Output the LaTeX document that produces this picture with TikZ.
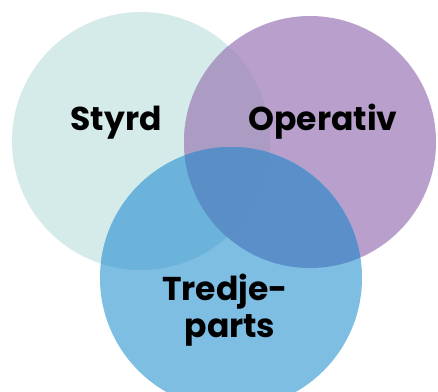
\documentclass[tikz,border=0pt]{standalone}
\usepackage{fontspec}
\setmainfont{Poppins}
\definecolor{cL}{HTML}{D4EBEA}
\definecolor{cP}{HTML}{B9A0CC}
\definecolor{cB}{HTML}{7EBEE3}
\definecolor{cLP}{HTML}{AC9CC4}
\definecolor{cLB}{HTML}{6CB3DC}
\definecolor{cBP}{HTML}{5B8FC9}
\definecolor{cLBP}{HTML}{5A8EC7}
\tikzset{lbl/.style={font=\bfseries\fontsize{33}{42}\selectfont, text=black, align=center, inner sep=0pt}}
\begin{document}
\begin{tikzpicture}[x=1pt,y=-1pt]
\useasboundingbox (0,0) rectangle (438,391);
\clip (0,0) rectangle (438,391);
\def\cLpath{(141,141) circle (129)}
\def\cPpath{(310,142) circle (126)}
\def\cBpath{(231,278) circle (131)}
\fill[cL] \cLpath;
\fill[cP] \cPpath;
\fill[cB] \cBpath;
\begin{scope}\clip \cLpath; \fill[cLP] \cPpath; \fill[cLB] \cBpath; \end{scope}
\begin{scope}\clip \cPpath; \fill[cBP] \cBpath; \end{scope}
\begin{scope}\clip \cLpath; \clip \cPpath; \fill[cLBP] \cBpath; \end{scope}
\node[lbl, anchor=base] (styrd) at (116,130) {Styrd};
\node[lbl, anchor=base] (oper) at (323,130) {Operativ};
\node[lbl, anchor=base] (tred) at (225,300) {Tredje-};
\node[lbl, anchor=base] (parts) at (230,337) {parts};
\end{tikzpicture}
\end{document}
